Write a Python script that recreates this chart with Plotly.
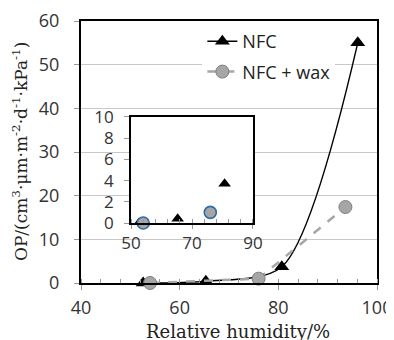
import plotly.graph_objects as go

# Data
humidity_nfc = [52.6, 65.3, 80.7, 96.1]
op_nfc = [0.0, 0.4, 3.7, 55.0]
humidity_wax = [54.0, 76.0, 93.6]
op_wax = [0.0, 1.0, 17.4]

x_ticks_main = [40, 60, 80, 100]
y_ticks_main = [0, 10, 20, 30, 40, 50, 60]
x_ticks_inset = [50, 70, 90]
y_ticks_inset = [0, 2, 4, 6, 8, 10]

x_title = "Relative humidity/%"
y_title = "OP/(cm<sup>3</sup>·μm·m<sup>-2</sup>·d<sup>-1</sup>·kPa<sup>-1</sup>)"

tick_font = dict(family="Open Sans", size=18, color="#333333")
inset_font = dict(family="Open Sans", size=17, color="#333333")

fig = go.Figure()

fig.add_trace(go.Scatter(
    x=humidity_nfc, y=op_nfc, name="NFC", mode="lines+markers",
    line=dict(color="black", width=1.4, shape="spline", smoothing=0.8),
    marker=dict(symbol="triangle-up", size=13, color="black"),
    cliponaxis=False, legendgroup="a", xaxis="x", yaxis="y"))
fig.add_trace(go.Scatter(
    x=humidity_wax, y=op_wax, name="NFC + wax", mode="lines+markers",
    line=dict(color="#a6a6a6", width=2.5, dash="dash"),
    marker=dict(symbol="circle", size=13, color="#a6a6a6",
                line=dict(color="#7f7f7f", width=1)),
    cliponaxis=False, legendgroup="b", xaxis="x", yaxis="y"))

# inset
fig.add_trace(go.Scatter(
    x=humidity_nfc, y=op_nfc, mode="markers", showlegend=False,
    marker=dict(symbol="triangle-up", size=11, color="black"),
    xaxis="x2", yaxis="y2"))
fig.add_trace(go.Scatter(
    x=humidity_wax, y=op_wax, mode="markers", showlegend=False,
    marker=dict(symbol="circle", size=12, color="#a6a6a6",
                line=dict(color="#2e6da4", width=1.6)),
    cliponaxis=False, xaxis="x2", yaxis="y2"))

fig.update_layout(
    width=394, height=340,
    margin=dict(l=73, r=25, t=13, b=65, autoexpand=False),
    paper_bgcolor="white", plot_bgcolor="white",
    showlegend=True,
    legend=dict(x=0.41, y=1 - 15 / 340, xref="paper", yref="container",
                xanchor="left", yanchor="top",
                bgcolor="white", font=dict(family="Open Sans", size=18, color="#222222"),
                traceorder="grouped", tracegroupgap=4, itemwidth=30),
    xaxis=dict(domain=[0, 1], range=[40, 100], tickvals=x_ticks_main,
               showline=True, linecolor="black", linewidth=2, mirror=True,
               ticks="outside", ticklen=5, tickcolor="#999999",
               minor=dict(dtick=4, tick0=40, ticks="inside", ticklen=4, tickcolor="#999999"),
               showgrid=False, zeroline=False, tickfont=tick_font,
               ticklabelstandoff=2, automargin=False, ticklabeloverflow="allow"),
    yaxis=dict(domain=[0, 1], range=[0, 60], tickvals=y_ticks_main,
               showline=True, linecolor="black", linewidth=2, mirror=True,
               ticks="outside", ticklen=5, tickcolor="#999999",
               showgrid=True, gridcolor="#c8c8c8", gridwidth=1,
               zeroline=False, tickfont=tick_font, ticklabelstandoff=11,
               automargin=False, ticklabeloverflow="allow"),
    xaxis2=dict(domain=[0.169, 0.581], anchor="y2", range=[50, 90], tickvals=x_ticks_inset,
                showline=True, linecolor="black", linewidth=2, mirror=True,
                ticks="outside", ticklen=4, tickcolor="#999999",
                minor=dict(dtick=4, tick0=50, ticks="inside", ticklen=4, tickcolor="#999999"),
                showgrid=False, zeroline=False, tickfont=inset_font, automargin=False),
    yaxis2=dict(domain=[0.229, 0.634], anchor="x2", range=[0, 10], tickvals=y_ticks_inset,
                showline=True, linecolor="black", linewidth=2, mirror=True,
                ticks="outside", ticklen=5, tickcolor="#999999",
                showgrid=False, zeroline=False, tickfont=inset_font, ticklabelstandoff=7,
                automargin=False),
    annotations=[
        dict(text=x_title, xref="paper", yref="paper", x=0.53, y=-0.185,
             xanchor="center", yanchor="middle", showarrow=False,
             font=dict(family="DejaVu Serif", size=18, color="#222222")),
        dict(text=y_title, xref="paper", yref="paper", x=-0.206, y=0.5,
             xanchor="center", yanchor="middle", showarrow=False, textangle=-90,
             font=dict(family="DejaVu Serif", size=17, color="#222222")),
    ],
)

fig.write_html("out.html")
